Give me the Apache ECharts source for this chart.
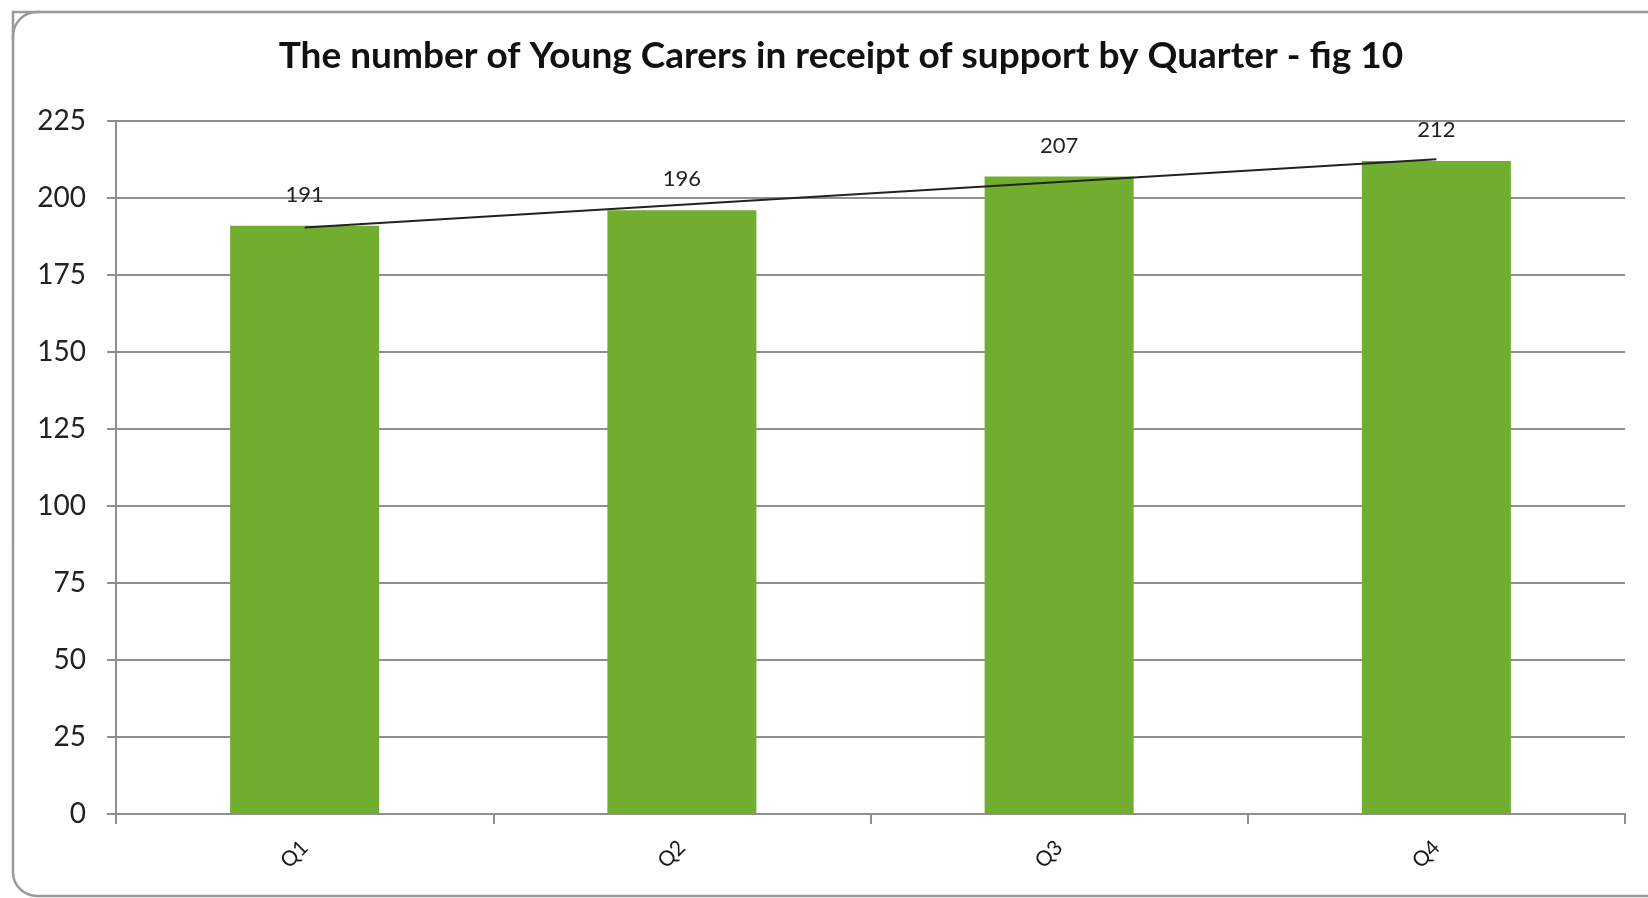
<!DOCTYPE html>
<html>
<head>
<meta charset="utf-8">
<script src="https://cdn.jsdelivr.net/npm/echarts@6/dist/echarts.min.js"></script>
<style>
  html, body { margin: 0; padding: 0; background: #fff; }
  #chart { width: 1648px; height: 898px; }
</style>
</head>
<body>
<div id="chart"></div>
<script>
// Young Carers supported per quarter
const quarters = ['Q1', 'Q2', 'Q3', 'Q4'];
const carers = [191, 196, 207, 212];
// Linear trend end points (Q1 and Q4)
const trendEnds = [190.4, 212.6];
const yTicks = { min: 0, max: 225, step: 25 };

const chart = echarts.init(document.getElementById('chart'), null, { renderer: 'canvas' });
const font = 'Lato, "Open Sans", sans-serif';
const gridColor = '#8f8f8f';

chart.setOption({
  animation: false,
  backgroundColor: '#ffffff',
  title: {
    text: 'The number of Young Carers in receipt of support by Quarter - fig 10',
    left: 836,
    top: 33,
    textAlign: 'center',
    textStyle: { fontFamily: font, fontWeight: 'bold', fontSize: 37, color: '#111' }
  },
  graphic: [{
    type: 'rect',
    shape: { x: 13, y: 12, width: 1660, height: 884, r: 24 },
    style: { fill: 'none', stroke: '#9a9a9a', lineWidth: 2.5 },
    z: 0
  }, {
    type: 'polyline',
    shape: { points: [[13, 40], [13, 12], [40, 12]] },
    style: { fill: 'none', stroke: '#9a9a9a', lineWidth: 2.5 },
    z: 0
  }],
  grid: { left: 116, right: 23, top: 121, bottom: 84 },
  xAxis: {
    type: 'category',
    data: quarters,
    axisLine: { lineStyle: { color: gridColor, width: 2 } },
    axisTick: { show: true, length: 10, lineStyle: { color: gridColor, width: 2 } },
    axisLabel: { rotate: 45, margin: 30, fontFamily: font, fontSize: 21, color: '#1a1a1a' }
  },
  yAxis: {
    type: 'value',
    min: yTicks.min,
    max: yTicks.max,
    interval: yTicks.step,
    axisLine: { show: true, lineStyle: { color: gridColor, width: 2 } },
    axisTick: { show: true, length: 9, lineStyle: { color: gridColor, width: 2 } },
    axisLabel: { margin: 30, fontFamily: font, fontSize: 28, color: '#222' },
    splitLine: { lineStyle: { color: gridColor, width: 2 } }
  },
  series: [{
    type: 'bar',
    data: carers,
    barWidth: 149,
    itemStyle: { color: '#71ad2f' },
    label: {
      show: true,
      position: 'top',
      distance: 20,
      fontFamily: font,
      fontSize: 22,
      color: '#222'
    },
    markLine: {
      silent: true,
      symbol: 'none',
      label: { show: false },
      lineStyle: { color: '#222', width: 2, type: 'solid' },
      data: [[
        { coord: [quarters[0], trendEnds[0]] },
        { coord: [quarters[quarters.length - 1], trendEnds[1]] }
      ]]
    }
  }]
});
</script>
</body>
</html>
